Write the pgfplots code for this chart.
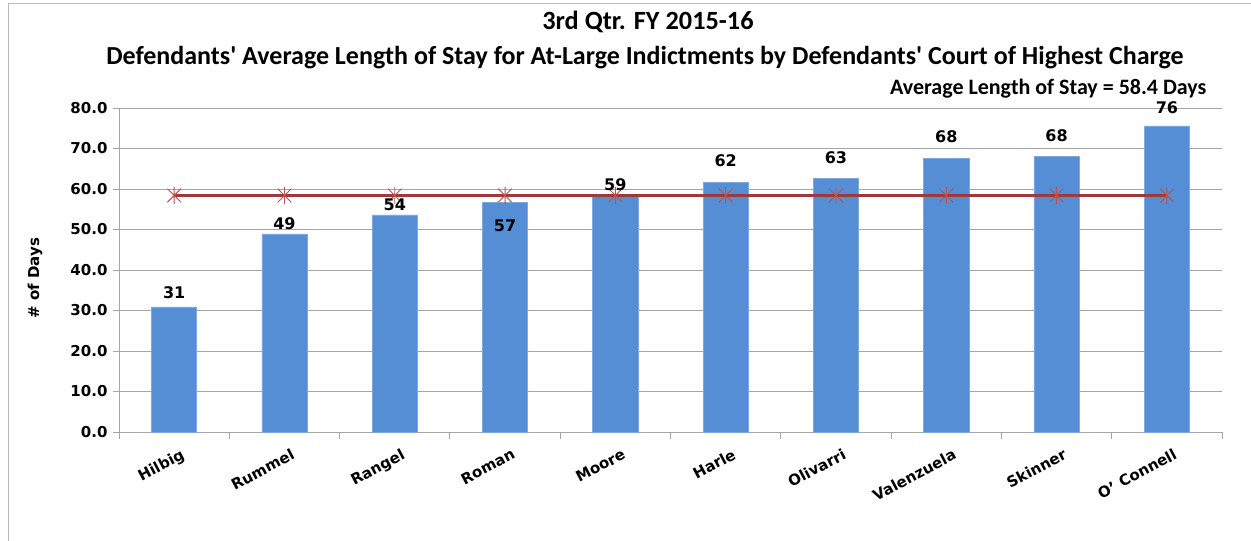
\documentclass[border=0pt]{standalone}
\usepackage{fontspec}
\setmainfont{DejaVu Sans}
\newfontfamily\calfont{Carlito}
\usepackage{pgfplots}
\pgfplotsset{compat=1.18}
\usepackage{pgfplotstable}
\definecolor{barblue}{HTML}{558ED5}
\definecolor{baredge}{HTML}{7FA8DF}
\definecolor{avgred}{HTML}{9E3A3A}
\definecolor{markred}{HTML}{C0504D}
\definecolor{gridgray}{HTML}{A6A6A6}
\pgfdeclareplotmark{xvert}{%
  \pgfpathmoveto{\pgfqpoint{-0.8\pgfplotmarksize}{-0.8\pgfplotmarksize}}%
  \pgfpathlineto{\pgfqpoint{0.8\pgfplotmarksize}{0.8\pgfplotmarksize}}%
  \pgfpathmoveto{\pgfqpoint{-0.8\pgfplotmarksize}{0.8\pgfplotmarksize}}%
  \pgfpathlineto{\pgfqpoint{0.8\pgfplotmarksize}{-0.8\pgfplotmarksize}}%
  \pgfpathmoveto{\pgfqpoint{0pt}{-\pgfplotmarksize}}%
  \pgfpathlineto{\pgfqpoint{0pt}{\pgfplotmarksize}}%
  \pgfusepathqstroke}
\pgfplotstableread{
x val
0 30.9
1 48.9
2 53.6
3 56.7
4 58.6
5 61.7
6 62.6
7 67.5
8 68.0
9 75.6
}\bars
\pgfplotstableread{
x avg
0 58.4
1 58.4
2 58.4
3 58.4
4 58.4
5 58.4
6 58.4
7 58.4
8 58.4
9 58.4
}\avgline
\pgfplotstableread{
x ylab label
0 34.3 31
1 51.4 49
2 56.0 54
3 50.9 57
4 61.0 59
5 66.9 62
6 67.7 63
7 72.8 68
8 73.1 68
9 80.2 76
}\labels
\begin{document}
\begin{tikzpicture}
\useasboundingbox (0,0) rectangle (1251pt,541pt);
\fill[white] (0,0) rectangle (1251pt,541pt);
\draw[gray!55, line width=1pt] (8pt,0) -- (8pt,537pt) -- (1251pt,537pt);
\begin{axis}[
  at={(119pt,109pt)}, anchor=south west,
  scale only axis, width=1103pt, height=324pt,
  xmin=-0.5, xmax=9.5, ymin=0, ymax=80,
  clip=false,
  axis x line=bottom, axis y line=left,
  axis line style={-, draw=gridgray, line width=0.9pt},
  ytick={0,10,...,80},
  ymajorgrids, grid style={gridgray, line width=0.9pt},
  xtick={0,...,9},
  xticklabels={Hilbig,Rummel,Rangel,Roman,Moore,Harle,Olivarri,Valenzuela,Skinner,O' Connell},
  minor xtick={-0.5,0.5,...,9.5},
  tick align=outside,
  major tick length=6pt, minor tick length=7pt,
  x tick style={draw=none},
  minor x tick style={draw=gridgray, line width=0.9pt},
  y tick style={draw=gridgray, line width=0.9pt},
  /pgf/number format/assume math mode=true,
  yticklabel={\pgfmathprintnumber[fixed,fixed zerofill,precision=1]{\tick}},
  yticklabel style={font=\bfseries\fontsize{15}{15}\selectfont, xshift=-2pt},
  xticklabel style={font=\bfseries\fontsize{15}{15}\selectfont, rotate=28, anchor=north east, inner sep=0.5pt, xshift=1pt, yshift=-11pt},
]
\addplot[ybar, bar width=0.41, fill=barblue, draw=baredge, line width=0.6pt] table[x=x,y=val] {\bars};
\addplot[avgred, line width=2.6pt, mark=xvert, mark size=8.5pt, mark options={draw=markred, line width=0.9pt}] table[x=x,y=avg] {\avgline};
\addplot[draw=none, mark=none, nodes near coords, point meta=explicit symbolic,
  nodes near coords align={center},
  every node near coord/.append style={font=\bfseries\fontsize{16}{16}\selectfont, text=black, inner sep=0pt}]
  table[x=x,y=ylab,meta=label] {\labels};
\end{axis}
\node[font=\calfont\bfseries\fontsize{26.3}{26.3}\selectfont] at (648pt,519pt) {3rd Qtr. FY 2015-16};
\node[font=\calfont\bfseries\fontsize{26}{26}\selectfont] at (645pt,483pt) {Defendants' Average Length of Stay for At-Large Indictments by Defendants' Court of Highest Charge};
\node[anchor=east, font=\calfont\bfseries\fontsize{22}{22}\selectfont] at (1210pt,452pt) {Average Length of Stay = 58.4 Days};
\node[rotate=90, font=\bfseries\fontsize{15}{15}\selectfont] at (35pt,263pt) {\# of Days};
\end{tikzpicture}
\end{document}
